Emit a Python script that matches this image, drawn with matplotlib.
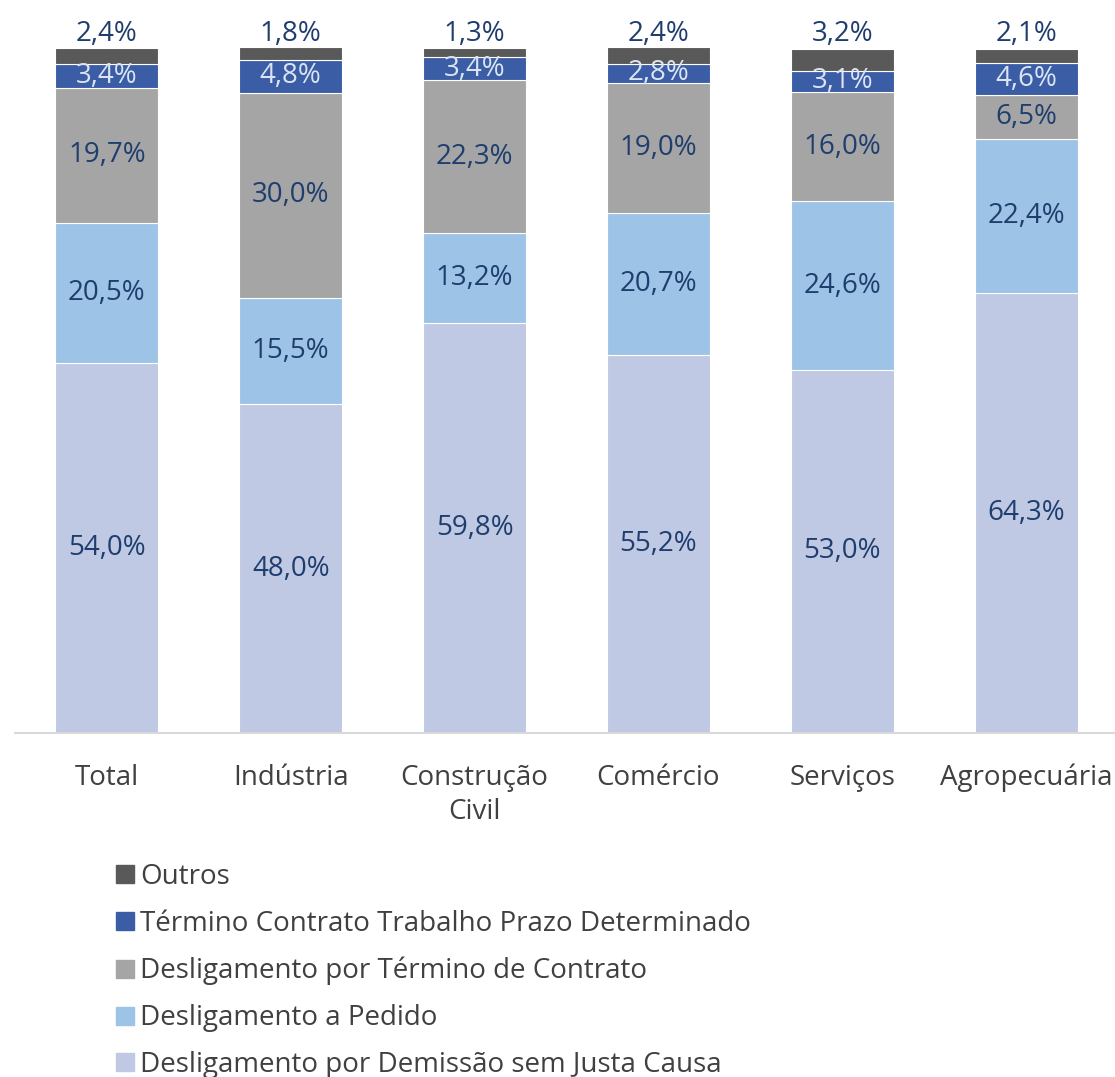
import numpy as np
import matplotlib.pyplot as plt
from matplotlib.lines import Line2D

plt.rcParams['font.family'] = ['Open Sans', 'DejaVu Sans']

categorias = ["Total", "Indústria", "Construção\nCivil", "Comércio", "Serviços", "Agropecuária"]
series = [
    "Desligamento por Demissão sem Justa Causa",
    "Desligamento a Pedido",
    "Desligamento por Término de Contrato",
    "Término Contrato Trabalho Prazo Determinado",
    "Outros",
]
demissao = [54.0, 48.0, 59.8, 55.2, 53.0, 64.3]
pedido = [20.5, 15.5, 13.2, 20.7, 24.6, 22.4]
termino_contrato = [19.7, 30.0, 22.3, 19.0, 16.0, 6.5]
prazo_determinado = [3.4, 4.8, 3.4, 2.8, 3.1, 4.6]
outros = [2.4, 1.8, 1.3, 2.4, 3.2, 2.1]

valores = [demissao, pedido, termino_contrato, prazo_determinado, outros]
cores = ["#BFC9E3", "#9DC3E6", "#A5A5A5", "#3A5DA6", "#595959"]
cor_label = ["#1F3E6E", "#1F3E6E", "#1F3E6E", "#DCE4F2", "#1F3E6E"]

fig = plt.figure(figsize=(11.15, 10.77), dpi=100)
ax = fig.add_axes([15/1115, 1-733/1077, 1103/1115, 685/1077])

x = np.arange(len(categorias))
bottom = np.zeros(len(categorias))
for i in range(len(series)):
    v = np.array(valores[i])
    ax.bar(x, v, bottom=bottom, width=0.56, color=cores[i], edgecolor="white", linewidth=0.8)
    for j in range(len(x)):
        txt = "{0:.1f}%".format(v[j]).replace(".", ",")
        if i == 4:
            ax.annotate(txt, (x[j], 100), xytext=(0, 10), textcoords="offset points",
                        ha="center", va="center", fontsize=20, color=cor_label[i])
        else:
            ax.text(x[j], bottom[j] + v[j]/2, txt, ha="center", va="center",
                    fontsize=20, color=cor_label[i])
    bottom += v

ax.set_xlim(-0.5, 5.5)
ax.set_ylim(0, 100)
ax.set_yticks([])
ax.set_xticks(x)
ax.set_xticklabels(categorias, fontsize=20, color="#404040", linespacing=1.3)
ax.tick_params(axis='x', length=0, pad=22)
for s in ["top", "right", "left"]:
    ax.spines[s].set_visible(False)
ax.spines["bottom"].set_color("#D9D9D9")
ax.spines["bottom"].set_linewidth(1.5)

handles = [Line2D([], [], marker="s", linestyle="none", markersize=13, color=cores[i],
                  label=series[i]) for i in range(4, -1, -1)]
fig.legend(handles=handles, loc="upper left", bbox_to_anchor=(100/1115, 1-852/1077),
           frameon=False, fontsize=20, labelcolor="#404040", handletextpad=0.05,
           labelspacing=0.68, handlelength=1.0, borderaxespad=0)

fig.savefig("out.png", dpi=100)
